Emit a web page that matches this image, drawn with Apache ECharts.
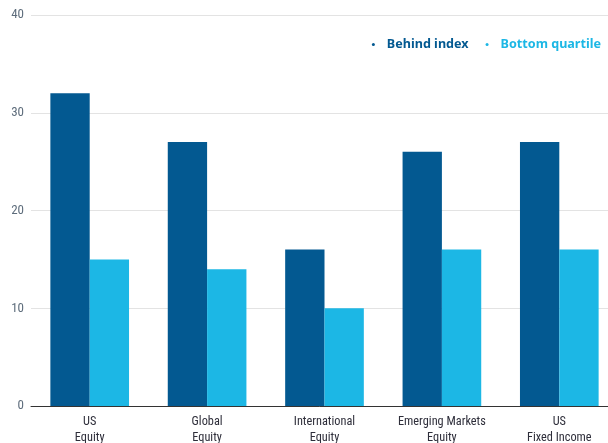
<!DOCTYPE html>
<html><head><meta charset="utf-8">
<script src="https://cdn.jsdelivr.net/npm/echarts@6/dist/echarts.min.js"></script>
<style>html,body{margin:0;padding:0;background:#fff}#c{width:608px;height:443px}</style>
</head><body><div id="c"></div>
<script>
const categories = ["US\nEquity", "Global\nEquity", "International\nEquity", "Emerging Markets\nEquity", "US\nFixed Income"];
const behindIndex = [32, 27, 16, 26, 27];
const bottomQuartile = [15, 14, 10, 16, 16];
const seriesNames = ["Behind index", "Bottom quartile"];
const yTicks = { min: 0, max: 40, interval: 10 };

const FONT = "'Roboto Condensed', 'DejaVu Sans Condensed', sans-serif";
const DARK = "#035991", LIGHT = "#1cb7e5";
const chart = echarts.init(document.getElementById('c'), null, { renderer: 'canvas' });
chart.setOption({
  animation: false,
  textStyle: { fontFamily: FONT },
  legend: {
    top: 33, right: 2, itemGap: 17, itemWidth: 3, itemHeight: 3, icon: 'circle',
    data: [
      { name: seriesNames[0], textStyle: { color: DARK } },
      { name: seriesNames[1], textStyle: { color: LIGHT } }
    ],
    textStyle: { fontFamily: "'Noto Sans', sans-serif", fontSize: 12.6, fontWeight: 'bold', padding: [0, 0, 0, 7] }
  },
  grid: { left: 31, top: 15, width: 587, bottom: 37, outerBoundsMode: 'none', containLabel: false },
  xAxis: {
    type: 'category', data: categories,
    axisLine: { lineStyle: { color: '#333', width: 1 } },
    axisTick: { show: false },
    axisLabel: { interval: 0, color: '#2e2e3a', fontSize: 12.3, lineHeight: 16, margin: 8, fontFamily: FONT }
  },
  yAxis: {
    type: 'value', min: yTicks.min, max: yTicks.max, interval: yTicks.interval,
    axisLine: { show: false }, axisTick: { show: false },
    splitLine: { lineStyle: { color: '#e3e3e3' } },
    axisLabel: { color: '#5d6c7b', fontSize: 13, margin: 7, fontFamily: FONT }
  },
  series: [
    { name: seriesNames[0], type: 'bar', data: behindIndex, itemStyle: { color: DARK }, barGap: '0%', barCategoryGap: '33%' },
    { name: seriesNames[1], type: 'bar', data: bottomQuartile, itemStyle: { color: LIGHT }, barGap: '0%', barCategoryGap: '33%' }
  ]
});
</script></body></html>
